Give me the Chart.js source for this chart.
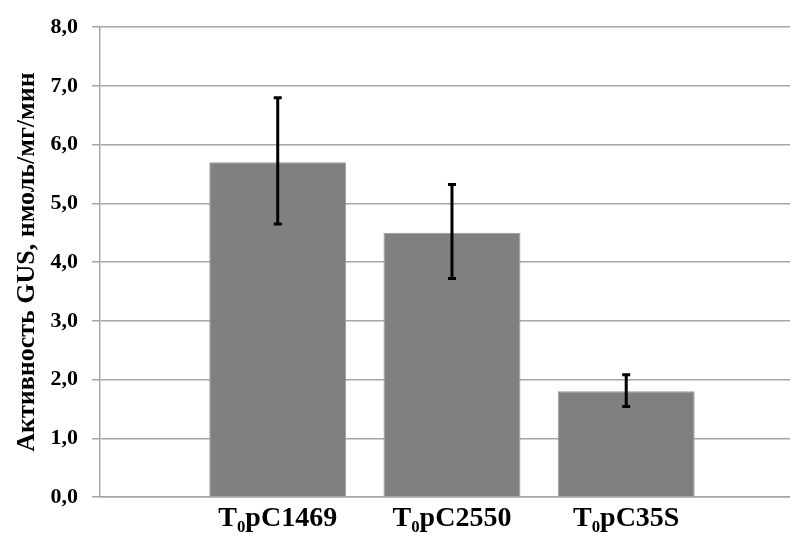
<!DOCTYPE html>
<html lang="ru">
<head>
  <meta charset="UTF-8">
  <title>Активность GUS</title>
  <script src="https://cdn.jsdelivr.net/npm/chart.js"></script>
  <style>
    html, body { margin: 0; padding: 0; background: #fff; overflow: hidden; }
    #wrap { position: relative; width: 790px; height: 535px; }
    canvas { display: block; }
  </style>
</head>
<body>
  <div id="wrap"><canvas id="gus"></canvas></div>

  <script>
    // Data
    const labels = ['T₀pC1469', 'T₀pC2550', 'T₀pC35S'];
    const values = [5.7, 4.5, 1.8];
    const errLow = [4.65, 3.72, 1.54];
    const errHigh = [6.8, 5.32, 2.08];
    const yTitle = 'Активность GUS, нмоль/мг/мин';

    const serif = "'Liberation Serif', 'Times New Roman', serif";
    const gridColor = '#a6a6a6';

    // draws the black whiskers on top of each bar
    const errorBars = {
      id: 'errorBars',
      afterDatasetsDraw(chart) {
        const ctx = chart.ctx;
        const x = chart.scales.x, y = chart.scales.y;
        ctx.save();
        ctx.strokeStyle = '#000';
        ctx.lineWidth = 3;
        values.forEach((v, i) => {
          const px = x.getPixelForValue(i + 1);
          const top = y.getPixelForValue(errHigh[i]);
          const bot = y.getPixelForValue(errLow[i]);
          ctx.beginPath();
          ctx.moveTo(px, top);
          ctx.lineTo(px, bot);
          ctx.moveTo(px - 4, top);
          ctx.lineTo(px + 4, top);
          ctx.moveTo(px - 4, bot);
          ctx.lineTo(px + 4, bot);
          ctx.stroke();
        });
        ctx.restore();
      }
    };

    new Chart(document.getElementById('gus'), {
      type: 'bar',
      data: {
        datasets: [{
          data: values.map((v, i) => ({ x: i + 1, y: v })),
          backgroundColor: '#808080',
          borderColor: '#9a9a9a',
          borderWidth: 1,
          categoryPercentage: 1,
          barPercentage: 0.786
        }]
      },
      options: {
        responsive: true,
        maintainAspectRatio: false,
        animation: false,
        layout: { padding: { top: 15, right: 0, left: 4, bottom: 0 } },
        plugins: {
          legend: { display: false },
          tooltip: { enabled: false }
        },
        scales: {
          x: {
            type: 'linear',
            offset: false,
            min: -0.02,
            max: 3.94,
            grid: { display: false },
            border: { display: true, color: gridColor, width: 1.5 },
            afterBuildTicks(scale) {
              scale.ticks = labels.map((l, i) => ({ value: i + 1 }));
            },
            afterFit(scale) {
              scale.height = 38;
              scale.paddingLeft = 0;
              scale.paddingRight = 0;
            },
            ticks: {
              autoSkip: false,
              maxRotation: 0,
              padding: 0,
              color: '#000',
              font: { family: serif, size: 28, weight: 'bold', lineHeight: 1 },
              callback: (val) => labels[val - 1]
            }
          },
          y: {
            min: 0,
            max: 8,
            ticks: {
              stepSize: 1,
              padding: 14,
              color: '#000',
              font: { family: serif, size: 22, weight: 'bold' },
              callback: (val) => val.toFixed(1).replace('.', ',')
            },
            grid: { color: gridColor, lineWidth: 1.5, tickLength: 8 },
            border: { display: true, color: gridColor, width: 1.5 },
            afterFit(scale) { scale.width = 96; },
            title: {
              display: true,
              text: yTitle,
              color: '#000',
              padding: { top: 8, bottom: 0 },
              font: { family: serif, size: 26, weight: 'bold' }
            }
          }
        }
      },
      plugins: [errorBars]
    });
  </script>
</body>
</html>
